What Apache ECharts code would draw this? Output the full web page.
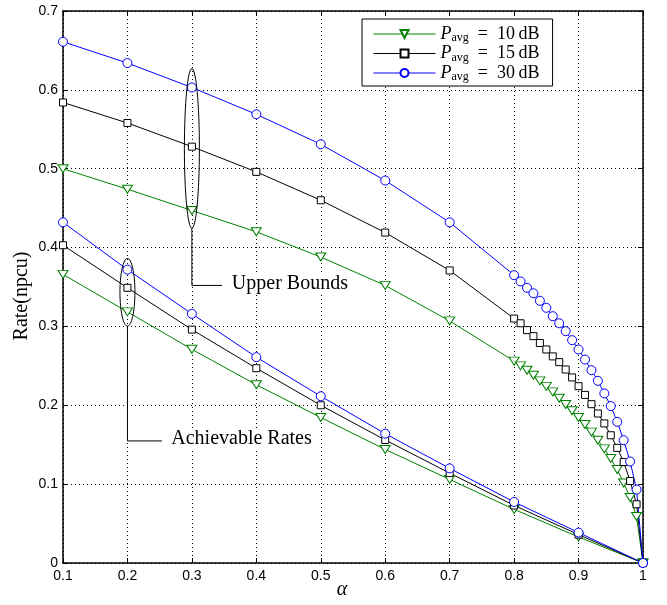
<!DOCTYPE html>
<html>
<head>
<meta charset="utf-8">
<script src="https://cdn.jsdelivr.net/npm/echarts@6/dist/echarts.min.js"></script>
<style>
  html, body { margin: 0; padding: 0; background: #fff; }
  #chart { width: 667px; height: 605px; }
</style>
</head>
<body>
<div id="chart"></div>
<script>
// alpha grid of the upper-bound curves (coarse, then refined near alpha = 1)
const upperAlpha = [0.1, 0.2, 0.3, 0.4, 0.5, 0.6, 0.7,
  0.8, 0.81, 0.82, 0.83, 0.84, 0.85, 0.86, 0.87, 0.88, 0.89,
  0.9, 0.91, 0.92, 0.93, 0.94, 0.95, 0.96, 0.97, 0.98, 0.99, 1];

// upper bounds on the rate (npcu)
const upper10 = [0.500, 0.474, 0.447, 0.420, 0.388, 0.352, 0.307,
  0.256, 0.250, 0.2445, 0.238, 0.231, 0.224, 0.217, 0.209, 0.201, 0.193,
  0.1845, 0.1756, 0.166, 0.1557, 0.1447, 0.1325, 0.1185, 0.1015, 0.083, 0.059, 0];
const upper15 = [0.584, 0.558, 0.528, 0.496, 0.460, 0.419, 0.371,
  0.310, 0.304, 0.2953, 0.2877, 0.279, 0.2708, 0.262, 0.2547, 0.2454, 0.2353,
  0.2242, 0.2132, 0.2014, 0.1896, 0.177, 0.162, 0.146, 0.128, 0.104, 0.0745, 0];
const upper30 = [0.661, 0.634, 0.603, 0.569, 0.531, 0.485, 0.432,
  0.365, 0.357, 0.349, 0.342, 0.3325, 0.3236, 0.313, 0.304, 0.294, 0.2826,
  0.2708, 0.258, 0.2445, 0.231, 0.215, 0.199, 0.179, 0.1557, 0.1287, 0.0931, 0];

// alpha grid of the achievable-rate curves
const achAlpha = [0.1, 0.2, 0.3, 0.4, 0.5, 0.6, 0.7, 0.8, 0.9, 1];

// achievable rates (npcu)
const ach10 = [0.366, 0.3185, 0.271, 0.226, 0.1845, 0.144, 0.106, 0.068, 0.033, 0];
const ach15 = [0.403, 0.349, 0.296, 0.247, 0.200, 0.156, 0.114, 0.073, 0.036, 0];
const ach30 = [0.432, 0.372, 0.316, 0.261, 0.2115, 0.164, 0.120, 0.0774, 0.0386, 0];

// legend entries
const powerNames = ['10', '15', '30'];

// axis ticks
const xTicks = { min: 0.1, max: 1, step: 0.1 };
const yTicks = { min: 0, max: 0.7, step: 0.1 };

// callouts: [alpha, rate] anchors of the outlined groups and their labels
const callouts = [
  { text: 'Upper Bounds', alpha: 0.3, top: 0.627, bottom: 0.4245, elbow: 0.352, end: 0.3467, label: 0.362 },
  { text: 'Achievable Rates', alpha: 0.2, top: 0.3863, bottom: 0.3004, elbow: 0.1548, end: 0.2536, label: 0.268 }
];

const GREEN = '#008000', BLACK = '#000000', BLUE = '#0000ff';
const serif = 'Liberation Serif';
const sans = 'Liberation Sans';

function zip(xs, ys) { return xs.map((x, i) => [x, ys[i]]); }

function lineSeries(name, xs, ys, color, symbol, size, rotate) {
  return {
    name: name,
    type: 'line',
    data: zip(xs, ys),
    symbol: symbol,
    symbolSize: size,
    symbolRotate: rotate || 0,
    showAllSymbol: true,
    animation: false,
    lineStyle: { color: color, width: 1 },
    itemStyle: { color: '#fff', borderColor: color, borderWidth: 1 },
    emphasis: { disabled: true }
  };
}

const legendNames = powerNames.map(p => 'P' + p);

const series = [
  lineSeries(legendNames[0], upperAlpha, upper10, GREEN, 'triangle', [10, 8], 180),
  lineSeries(legendNames[1], upperAlpha, upper15, BLACK, 'rect', 7),
  lineSeries(legendNames[2], upperAlpha, upper30, BLUE, 'circle', 9),
  lineSeries('a10', achAlpha, ach10, GREEN, 'triangle', [10, 8], 180),
  lineSeries('a15', achAlpha, ach15, BLACK, 'rect', 7),
  lineSeries('a30', achAlpha, ach30, BLUE, 'circle', 9)
];

const tickFmt = v => String(+v.toFixed(1));
const axisLineStyle = { color: '#000', width: 1.5 };
const gridDots = { show: true, lineStyle: { color: '#000', width: 1, type: [1, 3] } };

const chart = echarts.init(document.getElementById('chart'), null, { renderer: 'canvas' });

chart.setOption({
  backgroundColor: '#fff',
  animation: false,
  grid: { left: 63, right: 24, top: 11, bottom: 42, containLabel: false },
  legend: {
    data: legendNames,
    orient: 'vertical',
    left: 362,
    top: 19,
    itemWidth: 62,
    itemHeight: 10,
    itemGap: 0.5,
    padding: [6, 13, 3, 11],
    borderColor: '#000',
    borderWidth: 1,
    backgroundColor: '#fff',
    selectedMode: false,
    lineStyle: { width: 1 },
    formatter: name => '{p|P}{s|avg}{t|\u2002=\u2002' + name.slice(1) + '\u2009dB}',
    textStyle: {
      color: '#000',
      rich: {
        p: { fontFamily: serif, fontStyle: 'italic', fontSize: 18, lineHeight: 16, color: '#000' },
        s: { fontFamily: serif, fontSize: 12, lineHeight: 10, padding: [6, 0, 0, 0], verticalAlign: 'top', color: '#000' },
        t: { fontFamily: serif, fontSize: 18, lineHeight: 16, color: '#000' }
      }
    }
  },
  xAxis: [
    {
      type: 'value', min: xTicks.min, max: xTicks.max, interval: xTicks.step,
      position: 'bottom',
      name: 'α', nameLocation: 'middle', nameGap: 17, nameMoveOverlap: false,
      nameTextStyle: { fontFamily: serif, fontStyle: 'italic', fontSize: 20, color: '#000', padding: [0, 22, 0, 0] },
      axisLine: { onZero: false, lineStyle: axisLineStyle },
      axisTick: { inside: true, length: 5, lineStyle: { color: '#000' } },
      axisLabel: { formatter: tickFmt, color: '#000', fontFamily: sans, fontSize: 14, margin: 6 },
      splitLine: gridDots
    },
    {
      type: 'value', min: xTicks.min, max: xTicks.max, interval: xTicks.step,
      position: 'top',
      axisLine: { onZero: false, lineStyle: axisLineStyle },
      axisTick: { inside: true, length: 5, lineStyle: { color: '#000' } },
      axisLabel: { show: false },
      splitLine: { show: false }
    }
  ],
  yAxis: [
    {
      type: 'value', min: yTicks.min, max: yTicks.max, interval: yTicks.step,
      position: 'left',
      name: 'Rate(npcu)', nameLocation: 'middle', nameGap: 31, nameRotate: 90, nameMoveOverlap: false,
      nameTextStyle: { fontFamily: serif, fontSize: 20, color: '#000', padding: [0, 18, 0, 0] },
      axisLine: { onZero: false, lineStyle: axisLineStyle },
      axisTick: { inside: true, length: 5, lineStyle: { color: '#000' } },
      axisLabel: { formatter: tickFmt, color: '#000', fontFamily: sans, fontSize: 14, margin: 5 },
      splitLine: gridDots
    },
    {
      type: 'value', min: yTicks.min, max: yTicks.max, interval: yTicks.step,
      position: 'right',
      axisLine: { onZero: false, lineStyle: axisLineStyle },
      axisTick: { inside: true, length: 5, lineStyle: { color: '#000' } },
      axisLabel: { show: false },
      splitLine: { show: false }
    }
  ],
  series: series
});

// outline each group of curves with an ellipse and lead a label off it
function px(a, r) { return chart.convertToPixel({ gridIndex: 0 }, [a, r]); }

const graphics = [];
callouts.forEach(c => {
  const top = px(c.alpha, c.top);
  const bot = px(c.alpha, c.bottom);
  const elbow = px(c.alpha, c.elbow);
  const end = px(c.end, c.elbow);
  const lab = px(c.label, c.elbow);
  graphics.push({
    type: 'ellipse',
    shape: { cx: top[0], cy: (top[1] + bot[1]) / 2, rx: 7.5, ry: (bot[1] - top[1]) / 2 },
    style: { fill: 'none', stroke: '#000', lineWidth: 1 },
    z: 10
  });
  graphics.push({
    type: 'polyline',
    shape: { points: [bot, elbow, end] },
    style: { fill: 'none', stroke: '#000', lineWidth: 1 },
    z: 10
  });
  graphics.push({
    type: 'text',
    x: lab[0], y: lab[1] - 2,
    style: {
      text: c.text, fill: '#000', font: '20px ' + serif,
      textAlign: 'left', textVerticalAlign: 'middle',
      backgroundColor: '#fff'
    },
    z: 10
  });
});
chart.setOption({ graphic: graphics });
</script>
</body>
</html>
